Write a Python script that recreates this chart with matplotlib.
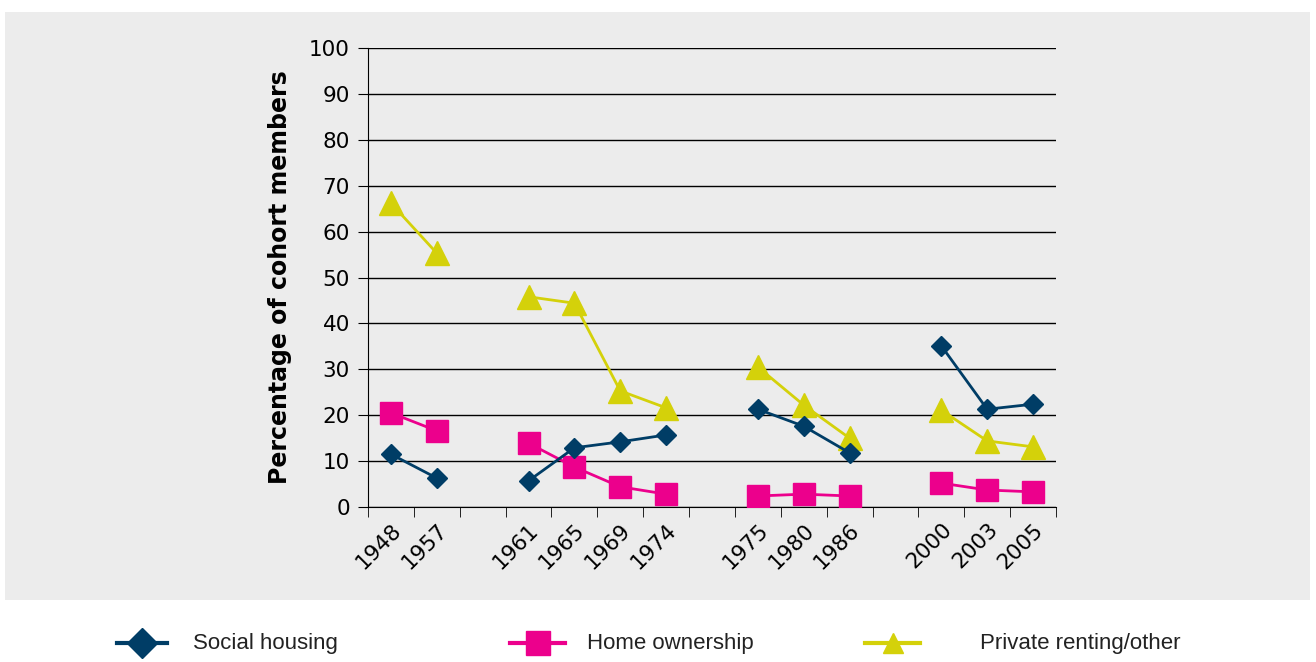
import matplotlib.pyplot as plt
import numpy as np
from matplotlib.lines import Line2D
from matplotlib.patches import Rectangle

# categories, with empty slots separating the cohort groups
years = ["1948", "1957", "", "1961", "1965", "1969", "1974", "",
         "1975", "1980", "1986", "", "2000", "2003", "2005"]
nan = np.nan
social = [11.5, 6.3, nan, 5.7, 12.9, 14.2, 15.7, nan,
          21.3, 17.6, 11.8, nan, 35.1, 21.3, 22.4]
home = [20.5, 16.6, nan, 13.9, 8.7, 4.4, 2.8, nan,
        2.4, 2.8, 2.4, nan, 5.2, 3.7, 3.3]
private = [66.2, 55.3, nan, 45.8, 44.4, 25.3, 21.6, nan,
           30.5, 22.2, 15.0, nan, 21.1, 14.4, 13.1]

NAVY = "#003d66"
PINK = "#ec008c"
YELLOW = "#d4d10a"


def main() -> None:
    fig = plt.figure(figsize=(13.16, 6.62), dpi=100)
    fig.patches.append(Rectangle((5 / 1316, 1 - 600 / 662), 1305 / 1316, 588 / 662,
                                 transform=fig.transFigure, facecolor="#ececec",
                                 edgecolor="none", zorder=-10))

    ax = fig.add_axes([368 / 1316, 1 - 507 / 662, 688 / 1316, 459 / 662])
    ax.set_facecolor("none")
    x = np.arange(len(years))

    ax.plot(x, private, color=YELLOW, lw=2, marker="^", ms=17, zorder=3)
    ax.plot(x, home, color=PINK, lw=2, marker="s", ms=16, zorder=4)
    ax.plot(x, social, color=NAVY, lw=2, marker="D", ms=10, zorder=5)

    ax.set_xlim(-0.5, len(years) - 0.5)
    ax.set_ylim(0, 100)
    ax.set_yticks(range(0, 101, 10))
    ax.yaxis.grid(True, color="black", lw=1)
    ax.set_axisbelow(True)
    for s in ("top", "right"):
        ax.spines[s].set_visible(False)
    ax.spines["left"].set_color("black")
    ax.spines["bottom"].set_color("black")

    ax.set_xticks(x)
    ax.set_xticklabels(years, rotation=45, ha="right", rotation_mode="anchor",
                       fontsize=15.5)
    ax.set_xticks(np.arange(-0.5, len(years)), minor=True)
    ax.tick_params(axis="x", which="major", length=0, pad=9)
    ax.tick_params(axis="x", which="minor", length=7, direction="out", color="black")
    ax.tick_params(axis="y", length=7, labelsize=15.5, color="black", pad=6)

    ax.set_ylabel("Percentage of cohort members", fontsize=17, fontweight="bold",
                  labelpad=12)

    # legend below the grey panel
    entries = [
        (117, 167, 193, NAVY, "D", 15, "Social housing"),
        (510, 565, 587, PINK, "s", 17, "Home ownership"),
        (865, 920, 980, YELLOW, "^", 14, "Private renting/other"),
    ]
    ly = 1 - 643 / 662
    for x0, x1, tx, col, mk, ms, label in entries:
        fig.add_artist(Line2D([x0 / 1316, x1 / 1316], [ly, ly], color=col, lw=3,
                              transform=fig.transFigure))
        fig.add_artist(Line2D([(x0 + x1) / 2 / 1316], [ly], color=col, marker=mk,
                              ms=ms, transform=fig.transFigure))
        fig.text(tx / 1316, ly, label, fontsize=16, va="center",
                 family="Liberation Sans", color="#222222")

    fig.savefig("out.png", dpi=100)


if __name__ == "__main__":
    main()
